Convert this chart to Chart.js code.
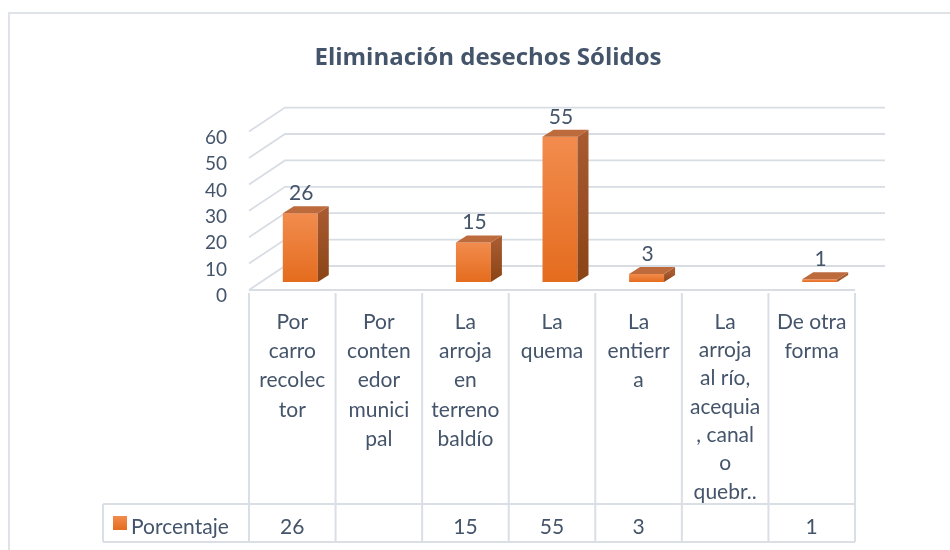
<!DOCTYPE html>
<html>
<head>
<meta charset="utf-8">
<script src="https://cdn.jsdelivr.net/npm/chart.js@4"></script>
<style>
  html, body { margin: 0; padding: 0; background: #ffffff; }
  #wrap { width: 950px; height: 550px; position: relative; }
</style>
</head>
<body>
<div id="wrap"><canvas id="c" width="950" height="550"></canvas></div>
<script>
// Categories (wrapped as they appear in the data table header)
const categories = [
  ["Por", "carro", "recolec", "tor"],
  ["Por", "conten", "edor", "munici", "pal"],
  ["La", "arroja", "en", "terreno", "baldío"],
  ["La", "quema"],
  ["La", "entierr", "a"],
  ["La", "arroja", "al río,", "acequia", ", canal", "o", "quebr.."],
  ["De otra", "forma"]
];
const porcentaje = [26, null, 15, 55, 3, null, 1];
const yTicks = [0, 10, 20, 30, 40, 50, 60];
const seriesName = "Porcentaje";
const chartTitle = "Eliminación desechos Sólidos";

const TEXT = "#44546a";
const GRID = "#d8dde4";
const FONT = "Lato, 'Noto Sans', sans-serif";

// 3D geometry: offsets of the front edge and back wall relative to the bar plane
const FRONT = { dx: -8, dy: 8 };
const BACK = { dx: 28, dy: -16 };
const DEPTH = { dx: 11, dy: -7 };   // extrusion of each column

function frontGradient(ctx) {
  const chart = ctx.chart;
  const ys = chart.scales.y;
  if (!ys || ctx.raw == null) return "#ee7a30";
  const top = ys.getPixelForValue(ctx.raw);
  const base = ys.getPixelForValue(0);
  if (!isFinite(top) || !isFinite(base) || top === base) return "#ee7a30";
  const g = chart.ctx.createLinearGradient(0, top, 0, base);
  g.addColorStop(0, "#f28c4e");
  g.addColorStop(1, "#e46c1e");
  return g;
}

const scene3d = {
  id: "scene3d",
  beforeDatasetsDraw(chart) {
    const { ctx, chartArea: a, scales: { x, y } } = chart;
    ctx.save();
    // outer frame
    ctx.strokeStyle = "#dfe3e8";
    ctx.lineWidth = 2;
    ctx.beginPath();
    ctx.moveTo(9, 1000); ctx.lineTo(9, 13); ctx.lineTo(1000, 13);
    ctx.stroke();

    // title
    ctx.fillStyle = TEXT;
    ctx.font = "bold 24px 'Open Sans', Lato, sans-serif";
    ctx.textAlign = "center";
    ctx.textBaseline = "middle";
    ctx.fillText(chartTitle, 488, 58);

    // back wall gridlines and left wall diagonals
    ctx.strokeStyle = GRID;
    ctx.lineWidth = 1.8;
    yTicks.forEach(v => {
      const py = y.getPixelForValue(v);
      ctx.beginPath();
      ctx.moveTo(a.left + FRONT.dx, py + FRONT.dy);
      ctx.lineTo(a.left + BACK.dx, py + BACK.dy);
      ctx.lineTo(a.right + 22, py + BACK.dy);
      ctx.stroke();
    });
    // floor front edge
    const p0 = y.getPixelForValue(0);
    ctx.beginPath();
    ctx.moveTo(a.left + FRONT.dx, p0 + FRONT.dy);
    ctx.lineTo(a.right + FRONT.dx, p0 + FRONT.dy);
    ctx.stroke();

    // data table
    const n = categories.length;
    const colW = (a.right - a.left) / n;
    const tLeft = a.left + FRONT.dx;
    const tRight = a.right + FRONT.dx;
    const hTop = p0 + FRONT.dy + 3;
    const rowTop = 504, rowBot = 542, legLeft = 103;
    ctx.strokeStyle = "#dadee5";
    ctx.lineWidth = 2;
    ctx.beginPath();
    for (let i = 0; i <= n; i++) {
      const vx = tLeft + i * colW;
      ctx.moveTo(vx, hTop); ctx.lineTo(vx, rowBot);
    }
    ctx.moveTo(legLeft, rowTop); ctx.lineTo(tRight, rowTop);
    ctx.moveTo(legLeft, rowBot); ctx.lineTo(tRight, rowBot);
    ctx.moveTo(legLeft, rowTop); ctx.lineTo(legLeft, rowBot);
    ctx.stroke();

    ctx.fillStyle = TEXT;
    ctx.font = "21px " + FONT;
    ctx.textAlign = "center";
    ctx.textBaseline = "middle";
    categories.forEach((lines, i) => {
      const cx = x.getPixelForValue(i) + FRONT.dx;
      const lh = lines.length > 1 ? Math.min(29.3, (492 - 322) / (lines.length - 1)) : 0;
      lines.forEach((t, k) => ctx.fillText(t, cx, 322 + k * lh));
      const v = porcentaje[i];
      if (v != null) ctx.fillText(String(v), cx, 527);
    });
    // legend key
    const lg = ctx.createLinearGradient(0, 516, 0, 530);
    lg.addColorStop(0, "#f28c4e");
    lg.addColorStop(1, "#e46c1e");
    ctx.fillStyle = lg;
    ctx.fillRect(113, 516, 14, 14);
    ctx.fillStyle = TEXT;
    ctx.textAlign = "left";
    ctx.fillText(seriesName, 131, 527);
    ctx.restore();
  },
  afterDatasetsDraw(chart) {
    const { ctx } = chart;
    const meta = chart.getDatasetMeta(0);
    ctx.save();
    meta.data.forEach((el, i) => {
      const v = porcentaje[i];
      if (v == null) return;
      const { x, y, base, width } = el.getProps(["x", "y", "base", "width"], true);
      const xl = x - width / 2, xr = x + width / 2;
      // side face
      const sg = ctx.createLinearGradient(0, y - 1, 0, base);
      sg.addColorStop(0, "#a85a30");
      sg.addColorStop(1, "#8a4416");
      ctx.fillStyle = sg;
      ctx.beginPath();
      ctx.moveTo(xr, y);
      ctx.lineTo(xr + DEPTH.dx, y + DEPTH.dy);
      ctx.lineTo(xr + DEPTH.dx, base + DEPTH.dy);
      ctx.lineTo(xr, base);
      ctx.closePath();
      ctx.fill();
      // top face
      ctx.fillStyle = "#bd6a3c";
      ctx.beginPath();
      ctx.moveTo(xl, y);
      ctx.lineTo(xl + DEPTH.dx, y + DEPTH.dy);
      ctx.lineTo(xr + DEPTH.dx, y + DEPTH.dy);
      ctx.lineTo(xr, y);
      ctx.closePath();
      ctx.fill();
      // value label
      ctx.fillStyle = TEXT;
      ctx.font = "21px " + FONT;
      ctx.textAlign = "center";
      ctx.textBaseline = "middle";
      ctx.fillText(String(v), x + 1, y - 20);
    });
    ctx.restore();
  }
};

new Chart(document.getElementById("c"), {
  type: "bar",
  data: {
    labels: categories.map(c => c.join(" ")),
    datasets: [{
      label: seriesName,
      data: porcentaje,
      backgroundColor: frontGradient,
      borderWidth: 0,
      categoryPercentage: 1,
      barPercentage: 0.404
    }]
  },
  options: {
    responsive: false,
    animation: false,
    devicePixelRatio: 1,
    layout: { padding: { top: 123.6, right: 87, bottom: 268, left: 0 } },
    plugins: {
      legend: { display: false },
      title: { display: false },
      tooltip: { enabled: false }
    },
    scales: {
      x: { display: false },
      y: {
        min: 0,
        max: 60,
        afterBuildTicks: s => { s.ticks = yTicks.map(v => ({ value: v })); },
        afterFit: s => { s.width = 257; },
        grid: { display: false, drawTicks: false },
        border: { display: false },
        ticks: {
          autoSkip: false,
          padding: 30,
          labelOffset: 14,
          color: TEXT,
          font: { family: FONT, size: 19 }
        }
      }
    }
  },
  plugins: [scene3d]
});
</script>
</body>
</html>
